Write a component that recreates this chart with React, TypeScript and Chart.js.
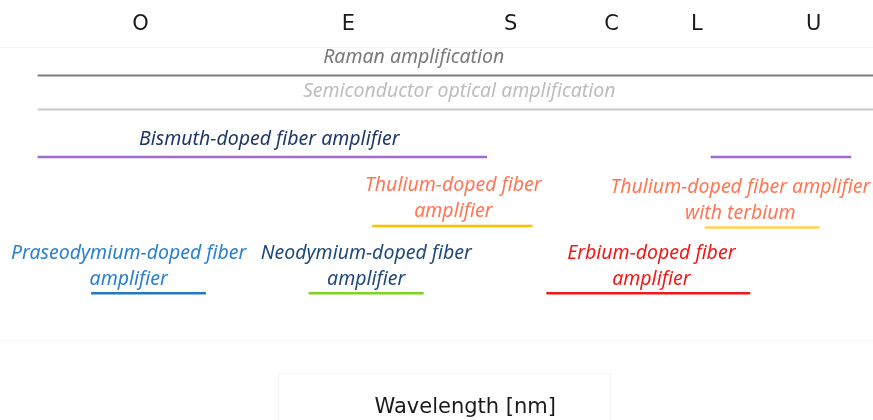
import React, { useEffect, useRef } from "react";
import { Chart, registerables } from "chart.js";

Chart.register(...registerables);

// Telecom band labels (top axis) and where they sit on the wavelength axis [nm]
const bandNames = ["O", "E", "S", "C", "L", "U"];
const bandCenters = [1310, 1415, 1497, 1548, 1591, 1650];

// Amplifier technologies
const ampNames = [
  "Raman amplification",
  "Semiconductor optical amplification",
  "Bismuth-doped fiber amplifier",
  "Thulium-doped fiber amplifier",
  "Thulium-doped fiber amplifier with terbium",
  "Praseodymium-doped fiber amplifier",
  "Neodymium-doped fiber amplifier",
  "Erbium-doped fiber amplifier",
];
const ampLabelLines = [
  ["Raman amplification"],
  ["Semiconductor optical amplification"],
  ["Bismuth\u2212doped fiber amplifier"],
  ["Thulium\u2212doped fiber", "amplifier"],
  ["Thulium\u2212doped fiber amplifier", "with terbium"],
  ["Praseodymium\u2212doped fiber", "amplifier"],
  ["Neodymium\u2212doped fiber", "amplifier"],
  ["Erbium\u2212doped fiber", "amplifier"],
];
// wavelength ranges [nm]; Bismuth has two separate bands
const ampRanges = [
  [[1258, 1680]],
  [[1258, 1680]],
  [[1258, 1485], [1598, 1669]],
  [[1427, 1508]],
  [[1595, 1653]],
  [[1285, 1343]],
  [[1395, 1453]],
  [[1515, 1618]],
];
const ampRow = [0.97, 2.13, 3.75, 6.1, 6.15, 8.4, 8.4, 8.4];
const ampLabelCenter = [1448, 1471, 1375, 1468, 1613, 1304, 1424, 1568];
const ampLineColors = ["#7f7f7f", "#c9c9c9", "#a06cc8", "#ffc000", "#ffd34d", "#2478c4", "#7ed321", "#f01818"];
const ampTextColors = ["#7a7a7a", "#bdbdbd", "#1f3766", "#ff7654", "#ff7654", "#2a80cf", "#1f4a78", "#f01818"];

const X_MIN = 1239;
const X_MAX = 1680;
const AXIS_TITLE = "Wavelength [nm]";
const AXIS_TITLE_CENTER = 1474;
const LABEL_FONT = "italic 19.5px 'Noto Sans', sans-serif";
const TITLE_FONT = "21px 'DejaVu Sans', sans-serif";

const labelPlugin = {
  id: "ampLabels",
  afterDatasetsDraw(chart: any) {
    const ctx = chart.ctx;
    const xs = chart.scales.x;
    const ys = chart.scales.y;
    ctx.save();
    ctx.font = LABEL_FONT;
    ctx.textAlign = "center";
    ctx.textBaseline = "middle";
    ampLabelLines.forEach((lines, i) => {
      const cx = xs.getPixelForValue(ampLabelCenter[i]);
      const ly = ys.getPixelForValue(ampRow[i]);
      ctx.fillStyle = ampTextColors[i];
      const n = lines.length;
      const gap = n > 1 ? 14 : 18;
      lines.forEach((t, k) => {
        ctx.fillText(t, cx, ly - gap - (n - 1 - k) * 26);
      });
    });
    // faint frame around axis title and the title itself
    ctx.strokeStyle = "#f4f4f4";
    ctx.lineWidth = 1;
    ctx.strokeRect(278.5, 373.5, 332, 60);
    ctx.font = TITLE_FONT;
    ctx.fillStyle = "#1a1a1a";
    ctx.fillText(AXIS_TITLE, xs.getPixelForValue(AXIS_TITLE_CENTER), 408);
    ctx.restore();
  },
};

export default function App() {
  const ref = useRef<HTMLCanvasElement | null>(null);
  useEffect(() => {
    if (!ref.current) return;
    const datasets = ampNames.map((name, i) => {
      const pts: any[] = [];
      ampRanges[i].forEach((r, k) => {
        if (k > 0) pts.push({ x: (ampRanges[i][k - 1][1] + r[0]) / 2, y: null });
        pts.push({ x: r[0], y: ampRow[i] });
        pts.push({ x: r[1], y: ampRow[i] });
      });
      return {
        label: name,
        data: pts,
        borderColor: ampLineColors[i],
        backgroundColor: ampLineColors[i],
        borderWidth: i < 2 ? 2 : 2.5,
        pointRadius: 0,
        spanGaps: false,
        xAxisID: "x",
        yAxisID: "y",
      };
    });
    const chart = new Chart(ref.current, {
      type: "line",
      data: { datasets },
      plugins: [labelPlugin],
      options: {
        animation: false,
        responsive: false,
        maintainAspectRatio: false,
        layout: { padding: { top: 2, left: 0, right: 0, bottom: 0 } },
        plugins: { legend: { display: false }, tooltip: { enabled: false } },
        scales: {
          x: {
            type: "linear",
            position: "bottom",
            min: X_MIN,
            max: X_MAX,
            grid: { display: false, drawTicks: false },
            border: { display: true, color: "#f6f6f6" },
            ticks: { display: false },
            title: {
              display: true,
              text: AXIS_TITLE,
              color: "rgba(0,0,0,0)",
              font: { family: "'DejaVu Sans', sans-serif", size: 19 },
              padding: { top: 56, bottom: 1 },
            },
          },
          xTop: {
            type: "linear",
            position: "top",
            min: X_MIN,
            max: X_MAX,
            grid: { display: false, drawTicks: false },
            border: { display: true, color: "#f3f3f3" },
            afterBuildTicks: (scale: any) => {
              scale.ticks = bandCenters.map((v) => ({ value: v }));
            },
            ticks: {
              autoSkip: false,
              maxRotation: 0,
              padding: 10,
              color: "#1a1a1a",
              font: { family: "'DejaVu Sans', sans-serif", size: 21 },
              callback: (_v: any, idx: number) => bandNames[idx],
            },
          },
          y: {
            type: "linear",
            display: false,
            reverse: true,
            min: 0,
            max: 10,
          },
        },
      },
    });
    return () => chart.destroy();
  }, []);
  return (
    <div style={{ position: "fixed", left: 0, top: 0, width: 873, height: 420, background: "#fff" }}>
      <canvas ref={ref} width={873} height={420} style={{ width: 873, height: 420, display: "block" }} />
    </div>
  );
}
